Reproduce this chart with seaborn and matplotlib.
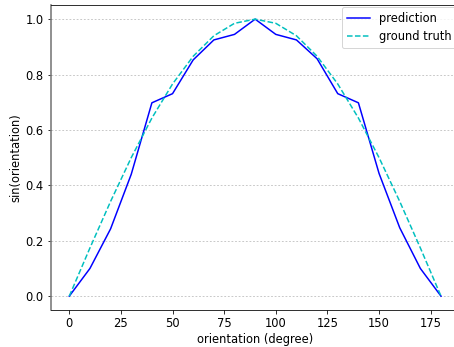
import matplotlib
matplotlib.use("Agg")
import matplotlib.pyplot as plt
import seaborn as sns
import pandas as pd

orientation = [0, 10, 20, 30, 40, 50, 60, 70, 80, 90, 100, 110, 120, 130, 140, 150, 160, 170, 180]
prediction = [0.0, 0.10, 0.243, 0.44, 0.698, 0.731, 0.853, 0.925, 0.945, 1.0,
              0.945, 0.925, 0.857, 0.731, 0.698, 0.443, 0.247, 0.10, 0.0]
ground_truth = [0.0, 0.174, 0.342, 0.5, 0.643, 0.766, 0.866, 0.940, 0.985, 1.0,
                0.985, 0.940, 0.866, 0.766, 0.643, 0.5, 0.342, 0.174, 0.0]
xticks = [0, 25, 50, 75, 100, 125, 150, 175]
yticks = [0.0, 0.2, 0.4, 0.6, 0.8, 1.0]

plt.rcParams['font.family'] = ['DejaVu Sans']
plt.rcParams['font.size'] = 11.5

W, H = 454, 347
fig = plt.figure(figsize=(W / 72, H / 72), dpi=72)
ax = fig.add_axes([50.7 / W, (H - 310) / H, (459.6 - 50.7) / W, (310 - 5.3) / H])

df = pd.DataFrame({"orientation": orientation, "prediction": prediction, "ground truth": ground_truth})
sns.lineplot(data=df, x="orientation", y="prediction", color="b", linewidth=1.5, ax=ax, label="prediction")
sns.lineplot(data=df, x="orientation", y="ground truth", color="c", linestyle="--", linewidth=1.5, ax=ax, label="ground truth")

ax.set_xlim(-9, 189)
ax.set_ylim(-0.05, 1.05)
ax.set_xticks(xticks)
ax.set_yticks(yticks)
ax.set_yticklabels([f"{v:.1f}" for v in yticks])
ax.yaxis.grid(True, linestyle=(0, (2, 2)), color="#c4c4c4", linewidth=0.9)
ax.set_axisbelow(True)
ax.spines['left'].set_color('#777777')
ax.spines['left'].set_linewidth(1.6)
ax.set_xlabel("orientation (degree)", labelpad=3)
ax.set_ylabel("sin(orientation)", labelpad=3)
ax.legend(loc="upper right")
leg = ax.get_legend()
fig.canvas.draw()
ax_bb = ax.get_window_extent()
target_right = 456
target_top = H - 7
x_anchor = (target_right - ax_bb.x0) / ax_bb.width
y_anchor = (target_top - ax_bb.y0) / ax_bb.height
leg.set_bbox_to_anchor((x_anchor, y_anchor), transform=ax.transAxes)
leg.borderaxespad = 0

fig.savefig("out.png", dpi=72)
